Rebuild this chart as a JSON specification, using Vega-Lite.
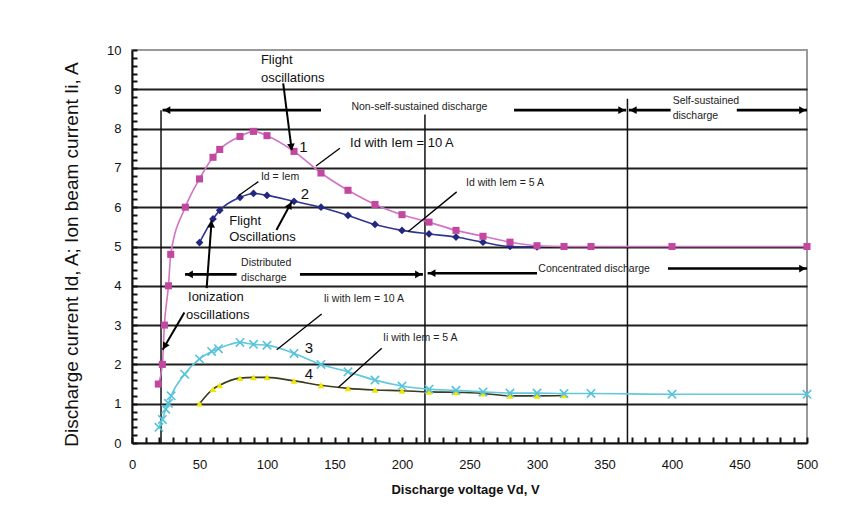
{
  "$schema": "https://vega.github.io/schema/vega-lite/v6.json",
  "width": 675,
  "height": 393,
  "autosize": {"type": "none"},
  "padding": {"left": 132, "top": 50, "right": 60, "bottom": 89},
  "background": "white",
  "config": {
    "font": "Liberation Sans",
    "view": {"stroke": "#9a9a9a", "strokeWidth": 2}
  },
  "datasets": {
    "curves": [
      {"s": "1", "x": 19.5, "y": 1.5}, {"s": "1", "x": 22.5, "y": 2.0}, {"s": "1", "x": 24, "y": 3.0}, {"s": "1", "x": 27, "y": 4.0}, {"s": "1", "x": 28.7, "y": 4.8}, {"s": "1", "x": 39.5, "y": 6.0}, {"s": "1", "x": 50, "y": 6.72}, {"s": "1", "x": 60, "y": 7.27}, {"s": "1", "x": 65, "y": 7.47}, {"s": "1", "x": 80, "y": 7.8}, {"s": "1", "x": 90, "y": 7.93}, {"s": "1", "x": 100, "y": 7.82}, {"s": "1", "x": 120, "y": 7.42}, {"s": "1", "x": 140, "y": 6.87}, {"s": "1", "x": 160, "y": 6.43}, {"s": "1", "x": 180, "y": 6.07}, {"s": "1", "x": 200, "y": 5.81}, {"s": "1", "x": 220, "y": 5.62}, {"s": "1", "x": 240, "y": 5.41}, {"s": "1", "x": 260, "y": 5.26}, {"s": "1", "x": 280, "y": 5.11}, {"s": "1", "x": 300, "y": 5.02}, {"s": "1", "x": 320, "y": 5.0}, {"s": "1", "x": 340, "y": 5.0}, {"s": "1", "x": 400, "y": 5.0}, {"s": "1", "x": 500, "y": 5.0},
      {"s": "2", "x": 50, "y": 5.1}, {"s": "2", "x": 60, "y": 5.7}, {"s": "2", "x": 65, "y": 5.92}, {"s": "2", "x": 80, "y": 6.25}, {"s": "2", "x": 90, "y": 6.35}, {"s": "2", "x": 100, "y": 6.3}, {"s": "2", "x": 120, "y": 6.15}, {"s": "2", "x": 140, "y": 6.0}, {"s": "2", "x": 160, "y": 5.79}, {"s": "2", "x": 180, "y": 5.56}, {"s": "2", "x": 200, "y": 5.41}, {"s": "2", "x": 220, "y": 5.32}, {"s": "2", "x": 240, "y": 5.24}, {"s": "2", "x": 260, "y": 5.11}, {"s": "2", "x": 280, "y": 5.0}, {"s": "2", "x": 300, "y": 4.99},
      {"s": "3", "x": 20, "y": 0.4}, {"s": "3", "x": 22.5, "y": 0.6}, {"s": "3", "x": 25, "y": 0.86}, {"s": "3", "x": 27, "y": 1.01}, {"s": "3", "x": 29, "y": 1.2}, {"s": "3", "x": 39, "y": 1.75}, {"s": "3", "x": 50, "y": 2.14}, {"s": "3", "x": 59, "y": 2.33}, {"s": "3", "x": 64, "y": 2.4}, {"s": "3", "x": 80, "y": 2.56}, {"s": "3", "x": 90, "y": 2.51}, {"s": "3", "x": 100, "y": 2.49}, {"s": "3", "x": 120, "y": 2.28}, {"s": "3", "x": 140, "y": 2.0}, {"s": "3", "x": 160, "y": 1.81}, {"s": "3", "x": 180, "y": 1.6}, {"s": "3", "x": 200, "y": 1.45}, {"s": "3", "x": 220, "y": 1.37}, {"s": "3", "x": 240, "y": 1.34}, {"s": "3", "x": 260, "y": 1.3}, {"s": "3", "x": 280, "y": 1.27}, {"s": "3", "x": 300, "y": 1.27}, {"s": "3", "x": 320, "y": 1.26}, {"s": "3", "x": 340, "y": 1.26}, {"s": "3", "x": 400, "y": 1.24}, {"s": "3", "x": 500, "y": 1.24},
      {"s": "4", "x": 50, "y": 1.0}, {"s": "4", "x": 60, "y": 1.37}, {"s": "4", "x": 65, "y": 1.47}, {"s": "4", "x": 80, "y": 1.65}, {"s": "4", "x": 90, "y": 1.67}, {"s": "4", "x": 100, "y": 1.67}, {"s": "4", "x": 120, "y": 1.58}, {"s": "4", "x": 140, "y": 1.47}, {"s": "4", "x": 160, "y": 1.39}, {"s": "4", "x": 180, "y": 1.35}, {"s": "4", "x": 200, "y": 1.33}, {"s": "4", "x": 220, "y": 1.3}, {"s": "4", "x": 240, "y": 1.29}, {"s": "4", "x": 260, "y": 1.26}, {"s": "4", "x": 280, "y": 1.2}, {"s": "4", "x": 300, "y": 1.2}, {"s": "4", "x": 320, "y": 1.21}
    ],
    "segments": [
      {"k": "vline", "x": 21.5, "y": 0, "x2": 21.5, "y2": 8.47},
      {"k": "vline", "x": 217, "y": 0, "x2": 217, "y2": 8.36},
      {"k": "vline", "x": 367, "y": 0, "x2": 367, "y2": 8.76},
      {"k": "harrow", "x": 22.6, "y": 8.47, "x2": 140, "y2": 8.47},
      {"k": "harrow", "x": 283, "y": 8.47, "x2": 366, "y2": 8.47},
      {"k": "harrow", "x": 368, "y": 8.47, "x2": 399, "y2": 8.47},
      {"k": "harrow", "x": 448, "y": 8.47, "x2": 500, "y2": 8.47},
      {"k": "harrow", "x": 39.3, "y": 4.29, "x2": 77.5, "y2": 4.29},
      {"k": "harrow", "x": 124.4, "y": 4.29, "x2": 215.5, "y2": 4.29},
      {"k": "harrow", "x": 219, "y": 4.32, "x2": 300, "y2": 4.32},
      {"k": "harrow", "x": 397, "y": 4.44, "x2": 500, "y2": 4.44},
      {"k": "arrow", "x": 112, "y": 9.15, "x2": 118.3, "y2": 7.45},
      {"k": "arrow", "x": 107, "y": 5.42, "x2": 118.3, "y2": 6.14},
      {"k": "arrow", "x": 55.3, "y": 3.94, "x2": 59, "y2": 5.67},
      {"k": "arrow", "x": 38.8, "y": 3.32, "x2": 22.7, "y2": 2.37},
      {"k": "leader", "x": 154, "y": 7.5, "x2": 136.3, "y2": 7.05},
      {"k": "leader", "x": 93.6, "y": 6.65, "x2": 78.8, "y2": 6.29},
      {"k": "leader", "x": 240.5, "y": 6.39, "x2": 204.7, "y2": 5.38},
      {"k": "leader", "x": 140.5, "y": 3.28, "x2": 107.2, "y2": 2.37},
      {"k": "leader", "x": 185, "y": 2.41, "x2": 153, "y2": 1.42}
    ],
    "heads": [
      {"x": 25.9, "y": 8.47, "a": 270}, {"x": 362.7, "y": 8.47, "a": 90},
      {"x": 371.3, "y": 8.47, "a": 270}, {"x": 496.7, "y": 8.47, "a": 90},
      {"x": 42.6, "y": 4.29, "a": 270}, {"x": 212.2, "y": 4.29, "a": 90},
      {"x": 222.3, "y": 4.32, "a": 270}, {"x": 496.7, "y": 4.44, "a": 90},
      {"x": 118, "y": 7.53, "a": 173}, {"x": 116.9, "y": 6.05, "a": 28},
      {"x": 58.8, "y": 5.57, "a": 4}, {"x": 24.2, "y": 2.46, "a": 210}
    ],
    "bigText": [
      {"x": 95.5, "y": 9.75, "t": "Flight"}, {"x": 95.5, "y": 9.3, "t": "oscillations"},
      {"x": 161.5, "y": 7.64, "t": "Id with Iem = 10 A"},
      {"x": 72, "y": 5.66, "t": "Flight"}, {"x": 72, "y": 5.25, "t": "Oscillations"},
      {"x": 41.5, "y": 3.71, "t": "Ionization"}, {"x": 40, "y": 3.26, "t": "oscillations"}
    ],
    "numText": [
      {"x": 127, "y": 7.54, "t": "1"}, {"x": 128, "y": 6.34, "t": "2"},
      {"x": 131, "y": 2.43, "t": "3"}, {"x": 131, "y": 1.76, "t": "4"}
    ],
    "smallText": [
      {"x": 162.5, "y": 8.54, "t": "Non-self-sustained discharge"},
      {"x": 400.5, "y": 8.69, "t": "Self-sustained"}, {"x": 400.5, "y": 8.32, "t": "discharge"},
      {"x": 80.8, "y": 4.59, "t": "Distributed"}, {"x": 80.8, "y": 4.19, "t": "discharge"},
      {"x": 301, "y": 4.44, "t": "Concentrated discharge"},
      {"x": 95.5, "y": 6.78, "t": "Id = Iem"},
      {"x": 247.4, "y": 6.62, "t": "Id with Iem = 5 A"},
      {"x": 142, "y": 3.67, "t": "Ii with Iem = 10 A"},
      {"x": 186, "y": 2.66, "t": "Ii with Iem = 5 A"}
    ]
  },
  "layer": [
    {
      "data": {"name": "segments"},
      "transform": [{"filter": "datum.k === 'vline'"}],
      "mark": {"type": "rule", "color": "#111", "strokeWidth": 1.5},
      "encoding": {
        "x": {"field": "x", "type": "quantitative",
          "scale": {"domain": [0, 500], "nice": false, "zero": false},
          "axis": {
            "title": "Discharge voltage Vd, V",
            "values": [0, 10, 20, 30, 40, 50, 60, 70, 80, 90, 100, 110, 120, 130, 140, 150, 160, 170, 180, 190, 200, 210, 220, 230, 240, 250, 260, 270, 280, 290, 300, 310, 320, 330, 340, 350, 360, 370, 380, 390, 400, 410, 420, 430, 440, 450, 460, 470, 480, 490, 500],
            "tickCount": 60,
            "labelExpr": "datum.value % 50 === 0 ? datum.label : ''",
            "grid": false,
            "ticks": true,
            "tickSize": -6,
            "tickColor": "#111",
            "tickWidth": 2,
            "labelFlush": false,
            "labelOverlap": false,
            "labelFontSize": 13,
            "labelColor": "#111",
            "labelPadding": 21,
            "domainColor": "#111",
            "domainWidth": 2,
            "titleFontSize": 13,
            "titleFontWeight": "bold",
            "titleColor": "#111",
            "titleX": 333,
            "titleY": 46,
            "titleBaseline": "middle"
          }
        },
        "y": {"field": "y", "type": "quantitative",
          "scale": {"domain": [0, 10], "nice": false, "zero": false},
          "axis": {
            "title": "Discharge current Id, A; Ion beam current Ii, A",
            "values": [0, 0.2, 0.4, 0.6, 0.8, 1, 1.2, 1.4, 1.6, 1.8, 2, 2.2, 2.4, 2.6, 2.8, 3, 3.2, 3.4, 3.6, 3.8, 4, 4.2, 4.4, 4.6, 4.8, 5, 5.2, 5.4, 5.6, 5.8, 6, 6.2, 6.4, 6.6, 6.8, 7, 7.2, 7.4, 7.6, 7.8, 8, 8.2, 8.4, 8.6, 8.8, 9, 9.2, 9.4, 9.6, 9.8, 10],
            "tickCount": 60,
            "labelExpr": "abs(datum.value - round(datum.value)) < 0.000001 ? format(datum.value, 'd') : ''",
            "grid": true,
            "gridColor": "#1e1e1e",
            "gridWidth": 2,
            "gridOpacity": {"condition": {"test": "abs(datum.value - round(datum.value)) < 0.000001 && datum.value > 0.5 && datum.value < 9.5", "value": 1}, "value": 0},
            "ticks": true,
            "tickSize": -5,
            "tickColor": "#111",
            "tickWidth": 2,
            "labelFlush": false,
            "labelOverlap": false,
            "labelFontSize": 13,
            "labelColor": "#111",
            "labelPadding": 16,
            "domainColor": "#111",
            "domainWidth": 2,
            "titleFontSize": 19,
            "titleFontWeight": "normal",
            "titleColor": "#111",
            "titleX": -61,
            "titleY": 204,
            "titleBaseline": "middle"
          }
        },
        "x2": {"field": "x2"},
        "y2": {"field": "y2"}
      }
    },
    {
      "data": {"name": "curves"},
      "transform": [{"filter": "datum.s === '4'"}],
      "mark": {"type": "line", "interpolate": "monotone", "color": "#3b3b1f", "strokeWidth": 1.6},
      "encoding": {"x": {"field": "x", "type": "quantitative"}, "y": {"field": "y", "type": "quantitative"}}
    },
    {
      "data": {"name": "curves"},
      "transform": [{"filter": "datum.s === '4'"}],
      "mark": {"type": "point", "shape": "triangle-up", "filled": true, "color": "#efe600", "size": 45, "opacity": 1},
      "encoding": {"x": {"field": "x", "type": "quantitative"}, "y": {"field": "y", "type": "quantitative"}}
    },
    {
      "data": {"name": "curves"},
      "transform": [{"filter": "datum.s === '3'"}],
      "mark": {"type": "line", "interpolate": "monotone", "color": "#62c8de", "strokeWidth": 1.6},
      "encoding": {"x": {"field": "x", "type": "quantitative"}, "y": {"field": "y", "type": "quantitative"}}
    },
    {
      "data": {"name": "curves"},
      "transform": [{"filter": "datum.s === '3'"}],
      "mark": {"type": "point", "shape": "M-1,-1L1,1M-1,1L1,-1", "filled": false, "color": "#55c2da", "strokeWidth": 1.6, "size": 70, "opacity": 1},
      "encoding": {"x": {"field": "x", "type": "quantitative"}, "y": {"field": "y", "type": "quantitative"}}
    },
    {
      "data": {"name": "curves"},
      "transform": [{"filter": "datum.s === '2'"}],
      "mark": {"type": "line", "interpolate": "monotone", "color": "#2f3590", "strokeWidth": 1.6},
      "encoding": {"x": {"field": "x", "type": "quantitative"}, "y": {"field": "y", "type": "quantitative"}}
    },
    {
      "data": {"name": "curves"},
      "transform": [{"filter": "datum.s === '2'"}],
      "mark": {"type": "point", "shape": "diamond", "filled": true, "color": "#22287f", "size": 60, "opacity": 1},
      "encoding": {"x": {"field": "x", "type": "quantitative"}, "y": {"field": "y", "type": "quantitative"}}
    },
    {
      "data": {"name": "curves"},
      "transform": [{"filter": "datum.s === '1'"}],
      "mark": {"type": "line", "interpolate": "monotone", "color": "#d274c6", "strokeWidth": 1.6},
      "encoding": {"x": {"field": "x", "type": "quantitative"}, "y": {"field": "y", "type": "quantitative"}}
    },
    {
      "data": {"name": "curves"},
      "transform": [{"filter": "datum.s === '1'"}],
      "mark": {"type": "point", "shape": "square", "filled": true, "color": "#c2489f", "size": 50, "opacity": 1},
      "encoding": {"x": {"field": "x", "type": "quantitative"}, "y": {"field": "y", "type": "quantitative"}}
    },
    {
      "data": {"name": "segments"},
      "transform": [{"filter": "datum.k === 'harrow'"}],
      "mark": {"type": "rule", "color": "#000", "strokeWidth": 2.6},
      "encoding": {"x": {"field": "x", "type": "quantitative"}, "y": {"field": "y", "type": "quantitative"}, "x2": {"field": "x2"}, "y2": {"field": "y2"}}
    },
    {
      "data": {"name": "segments"},
      "transform": [{"filter": "datum.k === 'arrow'"}],
      "mark": {"type": "rule", "color": "#000", "strokeWidth": 2},
      "encoding": {"x": {"field": "x", "type": "quantitative"}, "y": {"field": "y", "type": "quantitative"}, "x2": {"field": "x2"}, "y2": {"field": "y2"}}
    },
    {
      "data": {"name": "segments"},
      "transform": [{"filter": "datum.k === 'leader'"}],
      "mark": {"type": "rule", "color": "#000", "strokeWidth": 1.3},
      "encoding": {"x": {"field": "x", "type": "quantitative"}, "y": {"field": "y", "type": "quantitative"}, "x2": {"field": "x2"}, "y2": {"field": "y2"}}
    },
    {
      "data": {"name": "heads"},
      "mark": {"type": "point", "shape": "triangle-up", "filled": true, "color": "#000", "size": 60, "opacity": 1},
      "encoding": {"x": {"field": "x", "type": "quantitative"}, "y": {"field": "y", "type": "quantitative"}, "angle": {"field": "a", "type": "quantitative", "scale": null}}
    },
    {
      "data": {"name": "bigText"},
      "mark": {"type": "text", "align": "left", "baseline": "middle", "fontSize": 13, "color": "#111"},
      "encoding": {"x": {"field": "x", "type": "quantitative"}, "y": {"field": "y", "type": "quantitative"}, "text": {"field": "t"}}
    },
    {
      "data": {"name": "numText"},
      "mark": {"type": "text", "align": "center", "baseline": "middle", "fontSize": 15, "color": "#111"},
      "encoding": {"x": {"field": "x", "type": "quantitative"}, "y": {"field": "y", "type": "quantitative"}, "text": {"field": "t"}}
    },
    {
      "data": {"name": "smallText"},
      "mark": {"type": "text", "align": "left", "baseline": "middle", "fontSize": 10.5, "color": "#222"},
      "encoding": {"x": {"field": "x", "type": "quantitative"}, "y": {"field": "y", "type": "quantitative"}, "text": {"field": "t"}}
    }
  ]
}
